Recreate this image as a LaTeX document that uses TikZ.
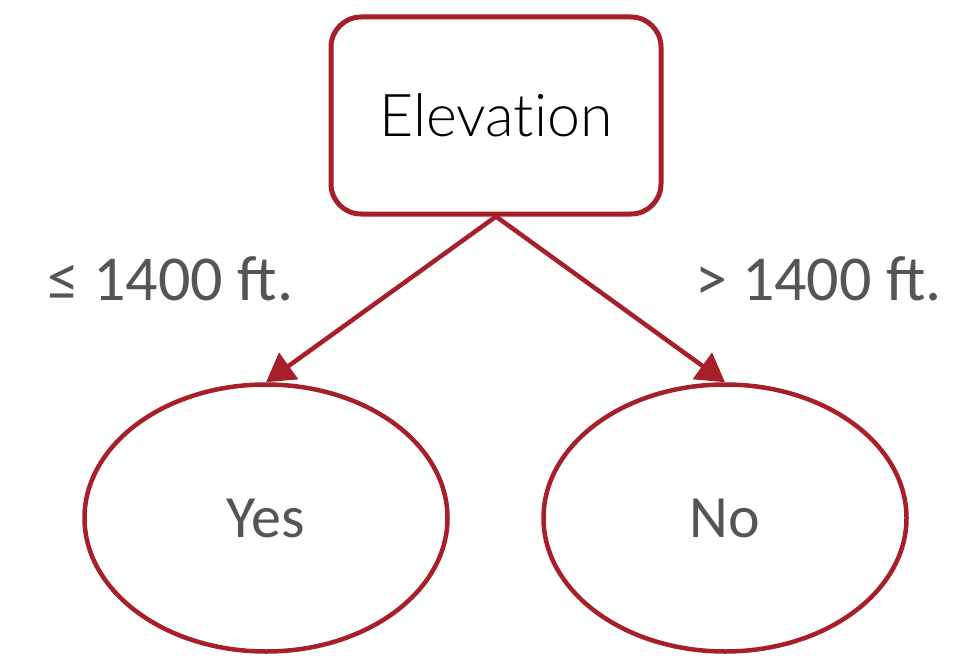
\documentclass[tikz,border=0pt]{standalone}
\usepackage{fontspec}
\setmainfont{Carlito}
\newfontfamily\gillfont[Ligatures=NoCommon]{Lato Light}
\usetikzlibrary{arrows.meta,shapes.geometric}
\definecolor{dred}{RGB}{166,31,41}
\definecolor{tgray}{RGB}{85,85,85}
\tikzset{
  box/.style={draw=dred, line width=5pt, rounded corners=30pt, minimum width=330pt, minimum height=197pt, inner sep=0pt},
  leaf/.style={draw=dred, line width=4.5pt, ellipse, minimum width=363pt, minimum height=267pt, inner sep=0pt, text=tgray, font=\fontsize{60}{60}\selectfont},
  conn/.style={draw=dred, line width=4.5pt, -{Triangle[length=28pt,width=32pt]}},
  lbl/.style={text=tgray, font=\fontsize{64}{64}\selectfont, inner sep=0pt}
}
\begin{document}
\begin{tikzpicture}[x=1pt,y=-1pt]
\useasboundingbox (0,0) rectangle (953,661);
\node[box, font=\gillfont\fontsize{59}{59}\selectfont] (elev) at (496,115.5) {Elevation};
\node[leaf] (yes) at (266,518) {Yes};
\node[leaf] (no) at (725,518) {No};
\draw[conn] (elev.south) -- (yes.north);
\draw[conn] (elev.south) -- (no.north);
\node[lbl, anchor=west] (l1) at (47,279) {≤ 1400 ft.};
\node[lbl, anchor=east] (l2) at (942,279) {> 1400 ft.};
\end{tikzpicture}
\end{document}
